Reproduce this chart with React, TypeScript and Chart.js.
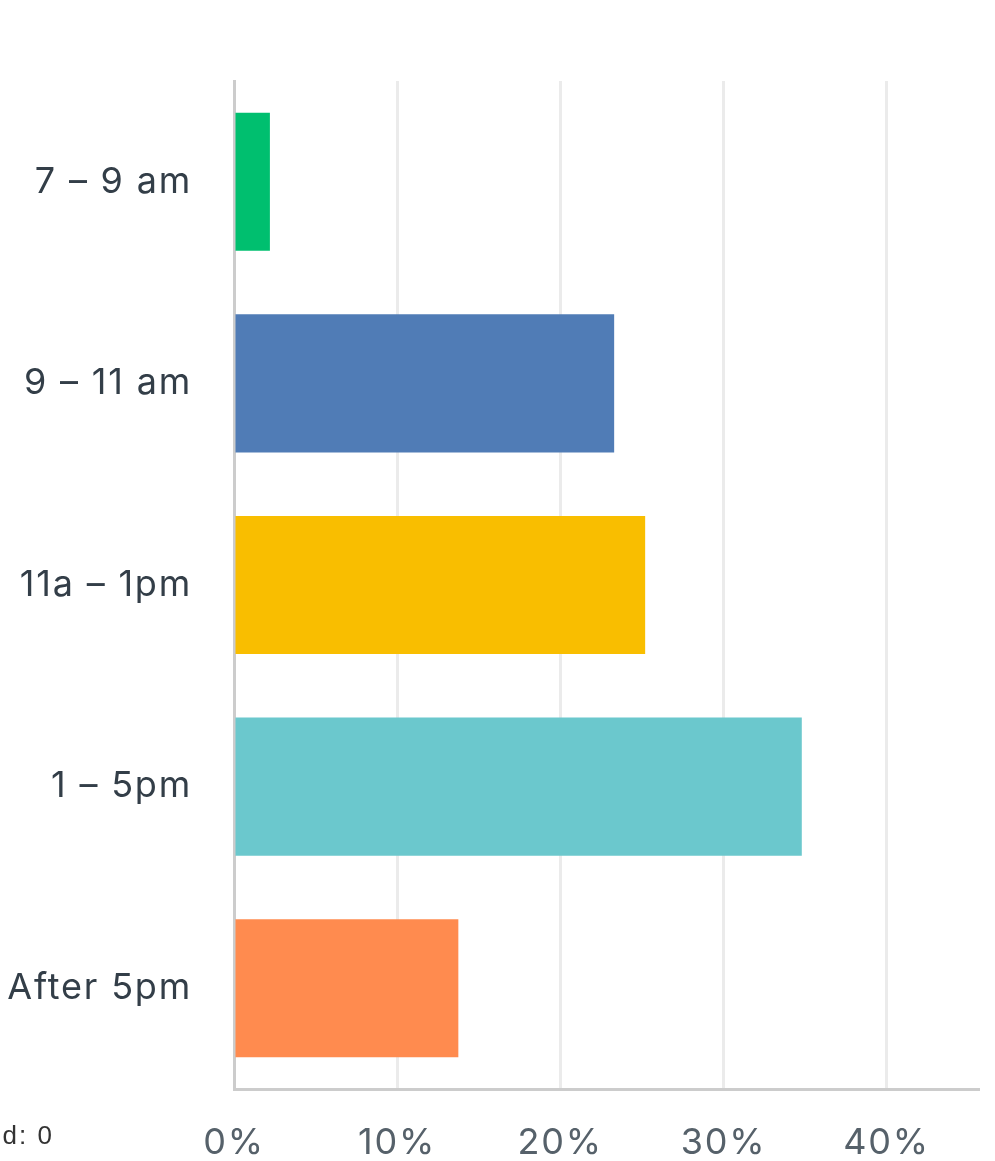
import React, { useEffect, useRef } from "react";
import { Chart, registerables } from "chart.js";

Chart.register(...registerables);

// Time slots and the share of answers for each one (percent)
const timeSlots: string[] = ["7 – 9 am", "9 – 11 am", "11a – 1pm", "1 – 5pm", "After 5pm"];
const shares: number[] = [2.2, 23.3, 25.2, 34.8, 13.75];
const barColors: string[] = ["#00bf6f", "#507cb6", "#f9be00", "#6bc8cd", "#ff8b4f"];
const percentTicks: number[] = [0, 10, 20, 30, 40];
const axisMax = 45.6;
const footnote = "Skipped: 0";

const labelFont = "Inter, 'Open Sans', sans-serif";

// Widens the spacing between glyphs for every label drawn on the canvas
const letterSpacingPlugin = {
  id: "letterSpacing",
  beforeDraw(chart: any) {
    (chart.ctx as any).letterSpacing = "1.8px";
  },
};

export default function App() {
  const canvasRef = useRef<HTMLCanvasElement | null>(null);

  useEffect(() => {
    const canvas = canvasRef.current;
    if (!canvas) return;
    const chart = new Chart(canvas, {
      type: "bar",
      data: {
        labels: timeSlots,
        datasets: [
          {
            data: shares,
            backgroundColor: barColors,
            borderWidth: 0,
            categoryPercentage: 1,
            barPercentage: 0.685,
          },
        ],
      },
      options: {
        indexAxis: "y",
        responsive: false,
        animation: false,
        layout: { padding: { top: 81, right: 17, left: 0, bottom: 0 } },
        plugins: {
          legend: { display: false },
          tooltip: { enabled: false },
        },
        scales: {
          x: {
            min: 0,
            max: axisMax,
            afterBuildTicks(scale: any) {
              scale.ticks = percentTicks.map((v) => ({ value: v }));
            },
            afterFit(scale: any) {
              scale.height = 111;
            },
            grid: { color: "#ebebeb", lineWidth: 3, drawTicks: false },
            border: { color: "#cccccc", width: 3 },
            ticks: {
              padding: 33,
              color: "#56616a",
              font: { family: labelFont, size: 36 },
              callback: (v: any) => `${v}%`,
            },
          },
          y: {
            afterFit(scale: any) {
              scale.width = 234;
            },
            grid: { display: false, drawTicks: false },
            border: { color: "#cccccc", width: 3 },
            ticks: {
              padding: 42,
              color: "#333e48",
              font: { family: labelFont, size: 36 },
            },
          },
        },
      },
      plugins: [letterSpacingPlugin],
    });
    return () => chart.destroy();
  }, []);

  return (
    <div
      style={{
        position: "absolute",
        left: 0,
        top: 0,
        width: 995,
        height: 1161,
        overflow: "hidden",
        background: "#ffffff",
      }}
    >
      <canvas ref={canvasRef} width={995} height={1200} style={{ display: "block" }} />
      <div
        style={{
          position: "absolute",
          left: -246,
          top: 1122,
          width: 300,
          textAlign: "right",
          fontFamily: "'Liberation Sans', Arial, sans-serif",
          fontSize: 26,
          lineHeight: "26px",
          letterSpacing: 2,
          color: "#333333",
          whiteSpace: "nowrap",
        }}
      >
        {footnote}
      </div>
    </div>
  );
}
